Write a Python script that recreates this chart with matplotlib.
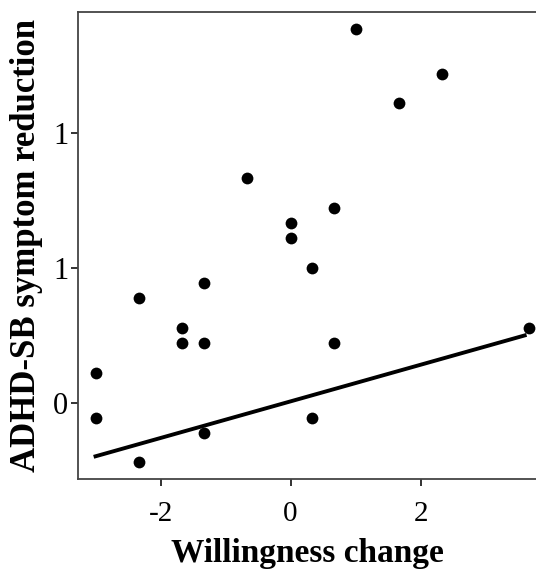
import numpy as np
import matplotlib
matplotlib.use("Agg")
import matplotlib.pyplot as plt

plt.rcParams['font.family'] = ['Liberation Serif', 'DejaVu Serif']

# willingness change vs. symptom reduction
willingness = [1.0, 2.33, 1.67, -0.67, 0.67, 0.0, 0.0, 0.33, -1.33, -2.33,
               -1.67, -1.67, -1.33, 0.67, 3.67, -3.0, -3.0, -1.33, 0.33, -2.33]
reduction = [1.389, 1.222, 1.111, 0.833, 0.722, 0.667, 0.611, 0.5, 0.444, 0.389,
             0.278, 0.222, 0.222, 0.222, 0.278, 0.111, -0.056, -0.111, -0.056, -0.222]

# fitted line
fit_intercept = 0.005
fit_slope = 0.068
fit_range = [-3.0, 3.6]

yticks = [0, 0.5, 1.0]
ytick_labels = ['0', '1', '1']
xticks = [-2, 0, 2]
xtick_labels = ['-2', '0', '2']

fig = plt.figure(figsize=(5.36, 5.76), dpi=100)
ax = fig.add_axes([0.1455, 0.1684, 0.8545, 0.8108])

ax.scatter(willingness, reduction, s=72, color='black', zorder=3, linewidths=0)
xs = np.array(fit_range)
ax.plot(xs, fit_intercept + fit_slope * xs, color='black', linewidth=2.8, zorder=2)

ax.set_xlim(-3.27, 3.774)
ax.set_ylim(-0.2833, 1.4508)
ax.set_xticks(xticks)
ax.set_xticklabels(xtick_labels, fontsize=21)
ax.set_yticks(yticks)
ax.set_yticklabels(ytick_labels, fontsize=22)

ax.spines['right'].set_visible(False)
for side in ['left', 'top', 'bottom']:
    ax.spines[side].set_color('#444444')
    ax.spines[side].set_linewidth(1.3)
ax.tick_params(direction='out', length=5, width=1.3, color='#222222', pad=2)
ax.tick_params(axis='x', pad=11)

ax.set_xlabel('Willingness change', fontsize=24, fontweight='bold', labelpad=8)
ax.set_ylabel('ADHD-SB symptom reduction', fontsize=25, fontweight='bold', labelpad=7)

fig.savefig('out.png', dpi=100)
